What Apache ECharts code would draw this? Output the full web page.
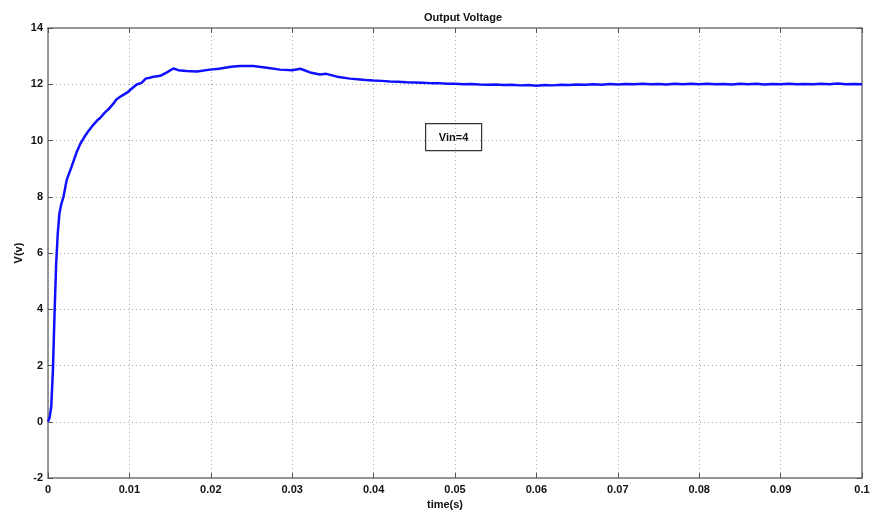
<!DOCTYPE html>
<html><head><meta charset="utf-8">
<script src="https://cdn.jsdelivr.net/npm/echarts@6/dist/echarts.min.js"></script>
<style>html,body{margin:0;padding:0;background:#fff}#c{width:873px;height:516px}</style>
</head><body><div id="c"></div>
<script>
var times = [0,0.0002,0.0004,0.0006,0.0008,0.001,0.0012,0.0014,0.0016,0.0019,0.0023,0.0029,0.0035,0.004,0.0045,0.005,0.0054,0.006,0.0064,0.007,0.0074,0.008,0.0084,0.009,0.0097,0.0103,0.0109,0.0115,0.012,0.0125,0.013,0.0138,0.0146,0.0154,0.016,0.017,0.0183,0.0199,0.021,0.0225,0.0236,0.0252,0.0269,0.0285,0.030,0.031,0.0322,0.0334,0.0342,0.0355,0.0371,0.038,0.039,0.04,
0.041,0.042,0.043,0.044,0.045,0.046,0.047,0.048,0.049,0.05,0.051,0.052,0.053,0.054,0.055,0.056,0.057,0.058,0.059,0.06,0.061,0.062,0.063,0.064,0.065,0.066,0.067,0.068,0.069,0.07,0.071,0.072,0.073,0.074,0.075,0.076,0.077,0.078,0.079,0.08,0.081,0.082,0.083,0.084,0.085,0.086,0.087,0.088,0.089,0.09,0.091,0.092,0.093,0.094,0.095,0.096,0.097,0.098,0.099,0.1];
var volts = [0,0.15,0.55,1.8,3.8,5.6,6.7,7.4,7.7,8.0,8.6,9.07,9.57,9.9,10.14,10.35,10.5,10.7,10.8,11.0,11.1,11.3,11.46,11.58,11.7,11.85,11.99,12.05,12.2,12.23,12.27,12.3,12.42,12.56,12.5,12.47,12.45,12.52,12.55,12.62,12.65,12.65,12.59,12.52,12.5,12.55,12.42,12.35,12.37,12.27,12.2,12.18,12.15,12.13,
12.12,12.1,12.09,12.07,12.06,12.05,12.04,12.04,12.02,12.02,12.0,12.01,11.99,11.98,11.99,11.97,11.98,11.96,11.97,11.95,11.97,11.96,11.98,11.97,11.99,11.98,12.0,11.98,12.01,11.99,12.01,12.0,12.02,12.0,12.01,11.99,12.02,12.0,12.02,12.0,12.02,12.0,12.01,11.99,12.02,12.0,12.02,11.99,12.01,12.0,12.02,12.0,12.01,12.0,12.02,12.0,12.03,12.0,12.01,12.0];
var xTicks = [0,0.01,0.02,0.03,0.04,0.05,0.06,0.07,0.08,0.09,0.1];
var titleText = 'Output Voltage';
var xName = 'time(s)';
var yName = 'V(v)';
var noteText = 'Vin=4';

var font = 'Liberation Sans, Arial, sans-serif';
var data = times.map(function(t,i){return [t, volts[i]];});
var chart = echarts.init(document.getElementById('c'));
var axisLine = {show:true, onZero:false, lineStyle:{color:'#777', width:1.5}};
var tick = {show:true, inside:true, length:5, lineStyle:{color:'#555', width:1}};
var grid = {show:true, lineStyle:{type:[1,3], color:'#aaa', width:1}};
chart.setOption({
  animation:false,
  backgroundColor:'#fff',
  title:{text:titleText, left:458, top:7, textAlign:'center',
    textStyle:{fontFamily:font, fontSize:11, fontWeight:'bold', color:'#111'}},
  grid:{left:48, right:11, top:28, bottom:38, containLabel:false},
  xAxis:[{type:'value', min:0, max:0.1, interval:0.01, position:'bottom',
    axisLine:axisLine, axisTick:tick,
    axisLabel:{fontFamily:font, fontSize:11, fontWeight:'bold', color:'#111', margin:6,
      formatter:function(v){var r=Math.round(v*100)/100; return xTicks.indexOf(r)>=0 ? String(r) : '';}},
    splitLine:grid,
    name:xName, nameLocation:'middle', nameGap:18,
    nameTextStyle:{fontFamily:font, fontSize:11, fontWeight:'bold', color:'#111', padding:[0,20,0,0]}},
    {type:'value', min:0, max:0.1, interval:0.01, position:'top',
    axisLine:axisLine, axisTick:tick, axisLabel:{show:false}, splitLine:{show:false}}],
  yAxis:[{type:'value', min:-2, max:14, interval:2, position:'left',
    axisLine:axisLine, axisTick:tick,
    axisLabel:{fontFamily:font, fontSize:11, fontWeight:'bold', color:'#111', margin:5},
    splitLine:grid,
    name:yName, nameLocation:'middle', nameGap:24, nameRotate:90, nameMoveOverlap:false,
    nameTextStyle:{fontFamily:font, fontSize:11, fontWeight:'bold', color:'#111'}},
    {type:'value', min:-2, max:14, interval:2, position:'right',
    axisLine:axisLine, axisTick:tick, axisLabel:{show:false}, splitLine:{show:false}}],
  series:[{type:'line', data:data, showSymbol:false, smooth:false,
    lineStyle:{color:'#1010ff', width:2.5}, xAxisIndex:0, yAxisIndex:0}],
  graphic:[{type:'group', left:425, top:123, children:[
    {type:'rect', shape:{x:0,y:0,width:56,height:27}, style:{fill:'#fff', stroke:'#333', lineWidth:1.2}},
    {type:'text', x:28, y:14, style:{text:noteText, font:'bold 11px '+font, fill:'#111', textAlign:'center', textVerticalAlign:'middle'}}
  ]}]
});
</script></body></html>
